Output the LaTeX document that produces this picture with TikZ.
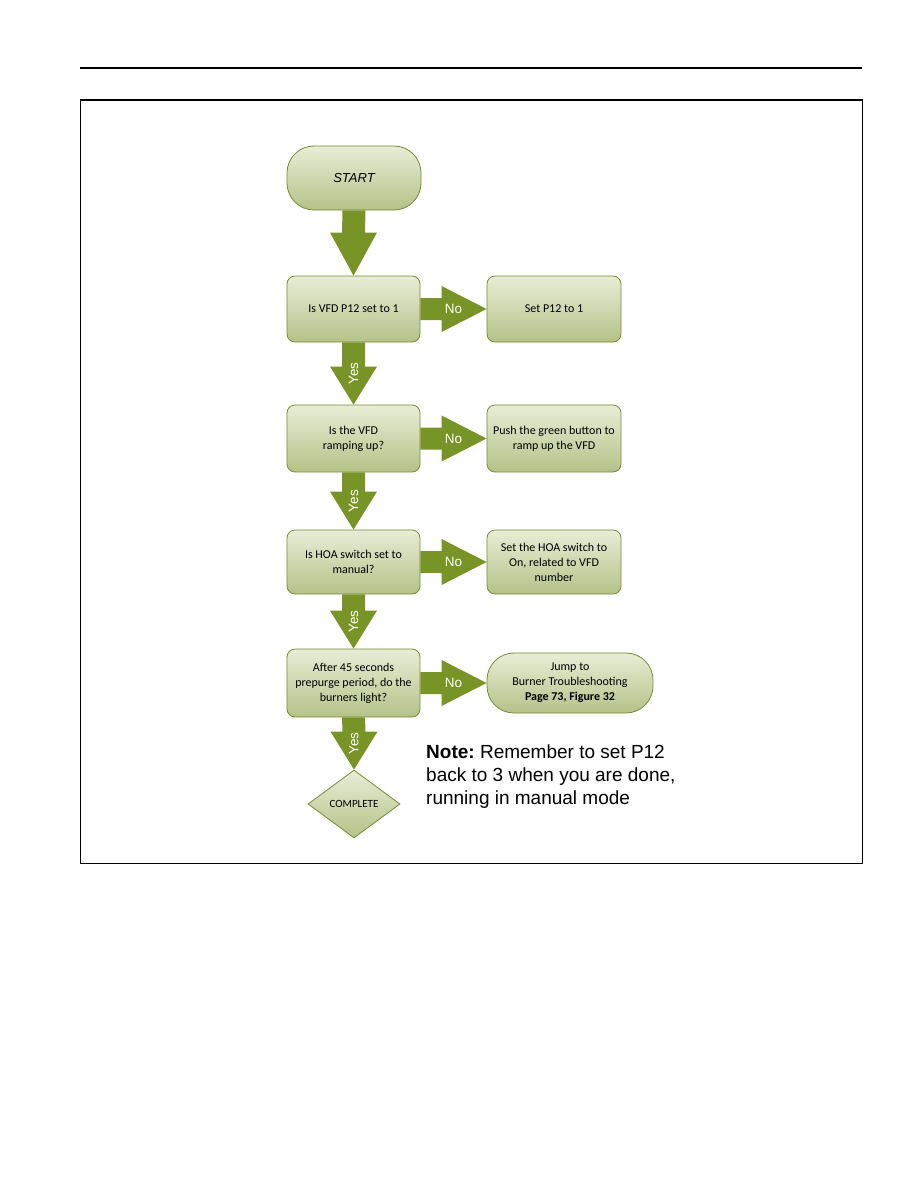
\documentclass[tikz,border=0pt]{standalone}
\usepackage{fontspec}
\setmainfont{Carlito}
\newfontfamily\notefont{Liberation Sans}
\usetikzlibrary{calc,shapes.geometric}
\definecolor{OliveArrow}{RGB}{120,148,38}
\definecolor{OliveEdge}{RGB}{118,140,52}
\definecolor{BoxTop}{RGB}{232,237,214}
\definecolor{BoxBottom}{RGB}{180,194,136}
\frenchspacing
\tikzset{
  stepbox/.style={draw=OliveEdge,thick,rounded corners=8pt,top color=BoxTop,
    bottom color=BoxBottom,minimum width=133pt,minimum height=66pt,
    inner sep=2pt,align=center,font=\fontsize{12}{15}\selectfont},
  terminal/.style={stepbox,rounded corners=27pt},
  decision/.style={diamond,draw=OliveEdge,thick,top color=BoxTop,
    bottom color=BoxBottom,minimum width=92pt,minimum height=68pt,inner sep=0pt,
    font=\fontsize{11}{12}\selectfont},
  arrowlabel/.style={text=white,inner sep=0pt,font=\notefont\fontsize{13.5}{14}\selectfont}
}
% block arrow to the right, with label No
\newcommand{\noarrow}[2]{%
  \fill[OliveArrow] ($(#1.east)+(0,-11)$) -- ($(#2.west)+(-45,-11)$)
    -- ($(#2.west)+(-45,-23)$) -- (#2.west) -- ($(#2.west)+(-45,23)$)
    -- ($(#2.west)+(-45,11)$) -- ($(#1.east)+(0,11)$) -- cycle;
  \node[arrowlabel] at ($(#2.west)+(-33,0)$) {No};}
% block arrow going down, #3 = head length
\newcommand{\downblock}[3]{%
  \fill[OliveArrow] ($(#1.south)+(-11.5,0)$) -- ($(#2.north)+(-11.5,-#3)$)
    -- ($(#2.north)+(-23.5,-#3)$) -- (#2.north) -- ($(#2.north)+(23.5,-#3)$)
    -- ($(#2.north)+(11.5,-#3)$) -- ($(#1.south)+(11.5,0)$) -- cycle;}
\newcommand{\yesarrow}[2]{%
  \downblock{#1}{#2}{38}
  \node[arrowlabel,rotate=90] at ($(#1.south)!0.5!(#2.north)$) {Yes};}

\begin{document}
\begin{tikzpicture}[x=1pt,y=-1pt]
\useasboundingbox (0,0) rectangle (918,1188);

% page rule and frame
\draw[line width=1.2pt] (80,68) -- (862,68);
\draw[line width=1pt] (80,100) rectangle (862,863);
\draw[line width=2pt] (80,100) -- (862,100);

% start
\node[terminal,minimum width=134pt,minimum height=64pt,
  font=\notefont\itshape\fontsize{13}{14}\selectfont] (start) at (354,178) {START};

% questions
\node[stepbox] (q1) at (353.5,309) {Is VFD P12 set to 1};
\node[stepbox,minimum height=67pt] (q2) at (353.5,438.5) {Is the VFD\\ramping up?};
\node[stepbox,minimum height=64pt] (q3) at (353.5,562) {Is HOA switch set to\\manual?};
\node[stepbox,minimum height=68pt] (q4) at (353.5,683) {After 45 seconds\\prepurge period, do the\\burners light?};

% actions
\node[stepbox,minimum width=134pt] (a1) at (554,309) {Set P12 to 1};
\node[stepbox,minimum width=134pt,minimum height=67pt] (a2) at (554,438.5) {Push the green button to\\ramp up the VFD};
\node[stepbox,minimum width=134pt,minimum height=64pt] (a3) at (554,562) {Set the HOA switch to\\On, related to VFD\\number};
\node[terminal,minimum width=166pt,minimum height=60pt] (a4) at (570,683) {Jump to\\Burner Troubleshooting\\\textbf{Page 73, Figure 32}};

% end
\node[decision] (done) at (354,804) {COMPLETE};

% arrows
\downblock{start}{q1}{43}
\yesarrow{q1}{q2}
\yesarrow{q2}{q3}
\yesarrow{q3}{q4}
\yesarrow{q4}{done}
\noarrow{q1}{a1}
\noarrow{q2}{a2}
\noarrow{q3}{a3}
\noarrow{q4}{a4}

% note
\node[anchor=north west,inner sep=0pt,align=left,
  font=\notefont\fontsize{19}{23}\selectfont] (note) at (426,745)
  {\textbf{Note:} Remember to set P12\\back to 3 when you are done,\\running in manual mode};

\end{tikzpicture}
\end{document}
